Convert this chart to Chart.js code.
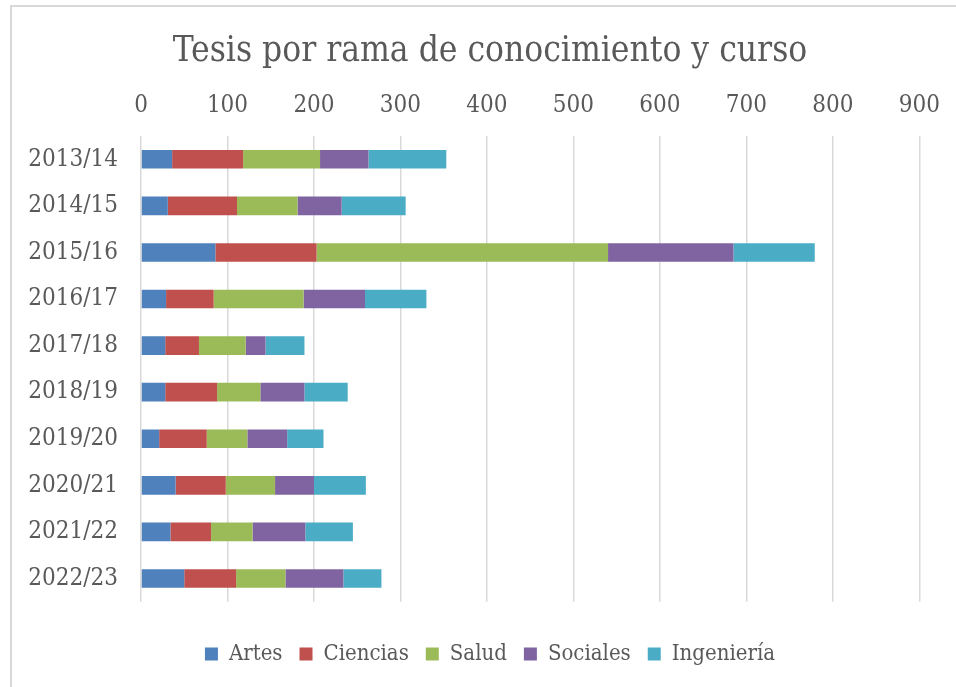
<!DOCTYPE html>
<html>
<head>
<meta charset="utf-8">
<title>Tesis por rama de conocimiento y curso</title>
<script src="https://cdn.jsdelivr.net/npm/chart.js@4"></script>
<style>
html, body { margin: 0; padding: 0; background: #ffffff; }
#chart { display: block; }
</style>
</head>
<body>
<canvas id="chart" width="956" height="687"></canvas>
<script>
const cursos = ["2013/14", "2014/15", "2015/16", "2016/17", "2017/18", "2018/19", "2019/20", "2020/21", "2021/22", "2022/23"];
const artes      = [36, 31, 86, 29, 28, 28, 21, 40, 34, 50];
const ciencias   = [82, 80, 117, 55, 39, 60, 55, 58, 47, 60];
const salud      = [89, 70, 337, 104, 54, 50, 47, 57, 48, 57];
const sociales   = [56, 51, 145, 71, 23, 51, 46, 45, 61, 67];
const ingenieria = [90, 74, 94, 71, 45, 50, 42, 60, 55, 44];

const fontFamily = "'DejaVu Serif Condensed', 'DejaVu Serif', serif";
const textColor = "#595959";

// light grey frame round the chart, and title/legend centred on that frame
const frame = {
  id: "frame",
  afterLayout(chart) {
    if (chart.titleBlock) chart.titleBlock.left += 59;
    if (chart.legend) chart.legend.left += 59;
  },
  beforeDraw(chart) {
    const ctx = chart.ctx;
    ctx.save();
    ctx.strokeStyle = "#d9d9d9";
    ctx.lineWidth = 2;
    ctx.beginPath();
    ctx.moveTo(11, chart.height + 5);
    ctx.lineTo(11, 6);
    ctx.lineTo(chart.width + 5, 6);
    ctx.stroke();
    ctx.restore();
  }
};

const data = {
  labels: cursos,
  datasets: [
    { label: "Artes", data: artes, backgroundColor: "#4f81bd" },
    { label: "Ciencias", data: ciencias, backgroundColor: "#c0504d" },
    { label: "Salud", data: salud, backgroundColor: "#9bbb59" },
    { label: "Sociales", data: sociales, backgroundColor: "#8064a2" },
    { label: "Ingeniería", data: ingenieria, backgroundColor: "#4bacc6" }
  ]
};

const config = {
  type: "bar",
  data: data,
  plugins: [frame],
  options: {
    responsive: false,
    animation: false,
    indexAxis: "y",
    datasets: {
      bar: { barPercentage: 0.4, categoryPercentage: 1, borderWidth: 0 }
    },
    layout: { padding: { left: 0, right: 35, top: 0, bottom: 12 } },
    plugins: {
      title: {
        display: true,
        text: "Tesis por rama de conocimiento y curso",
        color: textColor,
        font: { family: fontFamily, size: 35, weight: "normal" },
        padding: { top: 31, bottom: 0 }
      },
      legend: {
        position: "bottom",
        labels: {
          color: textColor,
          font: { family: fontFamily, size: 22 },
          boxWidth: 13,
          boxHeight: 13,
          padding: 17
        },
        title: { display: true, text: " ", font: { size: 1 }, padding: { top: 23, bottom: 0 } }
      },
      tooltip: { enabled: false }
    },
    scales: {
      x: {
        position: "top",
        stacked: true,
        min: 0,
        max: 900,
        afterFit(scale) { scale.height = 63; },
        ticks: {
          stepSize: 100,
          color: textColor,
          padding: 16,
          font: { family: fontFamily, size: 24 }
        },
        grid: { color: "#d9d9d9", lineWidth: 1.5, drawTicks: false },
        border: { display: false }
      },
      y: {
        stacked: true,
        afterFit(scale) { scale.width = 141; },
        ticks: {
          color: textColor,
          padding: 15,
          font: { family: fontFamily, size: 24 }
        },
        grid: { display: false },
        border: { display: false }
      }
    }
  }
};

const ctx = document.getElementById("chart").getContext("2d");
const chart = new Chart(ctx, config);
</script>
</body>
</html>
